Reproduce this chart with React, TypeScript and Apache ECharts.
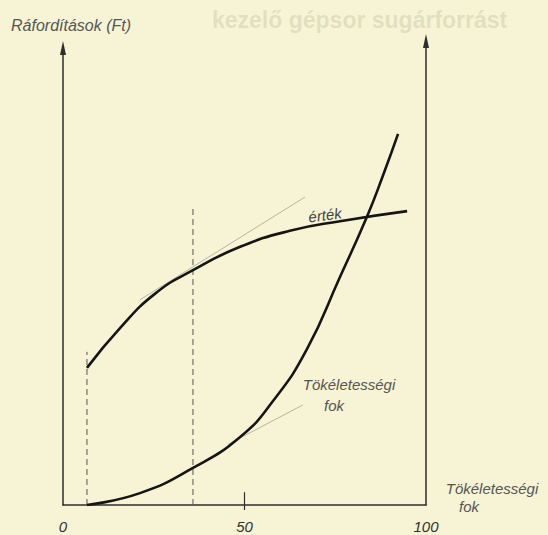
import React, { useEffect, useRef } from "react";
import * as echarts from "echarts";

// Axis ticks (x: degree of perfection, %)
const xTicks: number[] = [0, 50, 100];
const xTickLabels: string[] = ["0", "50", "100"];

// "érték" (value) curve
const valueCurve: [number, number][] = [
  [6.6, 30.0], [15.7, 38.7], [25.3, 46.2], [35.8, 51.4], [48.8, 56.5],
  [62.5, 60.0], [76.3, 62.1], [94.8, 64.3],
];
// "Tökéletességi fok" (cost of perfection) curve
const perfectionCurve: [number, number][] = [
  [6.6, 0], [21.2, 2.6], [35.8, 8.1], [48.8, 14.9], [57.9, 22.8],
  [67.2, 34.1], [76.3, 49.9], [83.7, 63.0], [88.2, 72.2], [92.3, 81.2],
];
// Dashed verticals
const dashedLeft: [number, number][] = [[6.6, 0], [6.6, 33.5]];
const dashedRight: [number, number][] = [[35.8, 0], [35.8, 65.6]];
// Thin tangent lines
const valueTangent: [number, number][] = [[21.2, 44.9], [66.7, 67.4]];
const perfectionTangent: [number, number][] = [[45.5, 13.3], [66.1, 21.9]];
// Mark on the x axis at 50
const midTick: [number, number][] = [[50, -1.1], [50, 2.8]];

const FONT = '"Liberation Sans", "DejaVu Sans", sans-serif';

export default function App() {
  const ref = useRef<HTMLDivElement>(null);
  useEffect(() => {
    if (!ref.current) return;
    const chart = echarts.init(ref.current, undefined, { renderer: "svg" });
    const axisColor = "#2e2e2e";
    chart.setOption({
      animation: false,
      backgroundColor: "#f6f4d4",
      grid: { left: 63, right: 122, top: 48, bottom: 30 },
      xAxis: {
        type: "value",
        min: xTicks[0],
        max: xTicks[xTicks.length - 1],
        interval: 50,
        axisLine: { show: true, lineStyle: { color: axisColor, width: 1.5 } },
        axisTick: { show: false },
        splitLine: { show: false },
        axisLabel: {
          show: true,
          margin: 14,
          color: "#333",
          fontSize: 15,
          fontStyle: "italic",
          fontFamily: FONT,
          formatter: (v: number) => xTickLabels[xTicks.indexOf(v)] ?? "",
        },
      },
      yAxis: [
        {
          type: "value",
          min: 0,
          max: 100,
          position: "left",
          axisLine: {
            show: true,
            symbol: ["none", "triangle"],
            symbolSize: [6, 14],
            lineStyle: { color: axisColor, width: 1.5 },
          },
          axisTick: { show: false },
          axisLabel: { show: false },
          splitLine: { show: false },
        },
        {
          type: "value",
          min: 0,
          max: 100,
          position: "right",
          axisLine: {
            show: true,
            symbol: ["none", "triangle"],
            symbolSize: [6, 14],
            symbolOffset: [0, 7],
            lineStyle: { color: axisColor, width: 1.5 },
          },
          axisTick: { show: false },
          axisLabel: { show: false },
          splitLine: { show: false },
        },
      ],
      series: [
        {
          type: "line",
          data: dashedLeft,
          symbol: "none",
          lineStyle: { color: "#555", width: 1, type: [6, 4] },
        },
        {
          type: "line",
          data: dashedRight,
          symbol: "none",
          lineStyle: { color: "#555", width: 1, type: [6, 4] },
        },
        {
          type: "line",
          data: valueTangent,
          symbol: "none",
          lineStyle: { color: "#b5b4a4", width: 1 },
        },
        {
          type: "line",
          data: perfectionTangent,
          symbol: "none",
          lineStyle: { color: "#b5b4a4", width: 1 },
        },
        {
          type: "line",
          data: midTick,
          symbol: "none",
          clip: false,
          lineStyle: { color: axisColor, width: 1.2 },
        },
        {
          type: "line",
          name: "érték",
          data: valueCurve,
          symbol: "none",
          smooth: 0.5,
          lineStyle: { color: "#151515", width: 2.6 },
        },
        {
          type: "line",
          name: "Tökéletességi fok",
          data: perfectionCurve,
          symbol: "none",
          smooth: 0.5,
          lineStyle: { color: "#151515", width: 2.6 },
        },
      ],
      graphic: [
        {
          type: "text",
          silent: true,
          style: {
            text: "kezelő gépsor sugárforrást",
            x: 212,
            y: 20,
            fill: "rgba(110,110,90,0.17)",
            fontSize: 23,
            fontWeight: "bold",
            fontFamily: FONT,
            verticalAlign: "middle",
          },
        },
        {
          type: "text",
          style: {
            text: "Ráfordítások (Ft)",
            x: 11,
            y: 25,
            fill: "#555",
            fontSize: 16,
            fontStyle: "italic",
            fontFamily: FONT,
            verticalAlign: "middle",
          },
        },
        {
          type: "text",
          rotation: 0.12,
          x: 325,
          y: 215,
          style: {
            text: "érték",
            x: 0,
            y: 0,
            fill: "#444",
            fontSize: 15,
            fontStyle: "italic",
            fontFamily: FONT,
            align: "center",
            verticalAlign: "middle",
          },
        },
        {
          type: "text",
          style: {
            text: "Tökéletességi",
            x: 349,
            y: 384,
            fill: "#555",
            fontSize: 15,
            fontStyle: "italic",
            fontFamily: FONT,
            align: "center",
            verticalAlign: "middle",
          },
        },
        {
          type: "text",
          style: {
            text: "fok",
            x: 334,
            y: 405,
            fill: "#555",
            fontSize: 15,
            fontStyle: "italic",
            fontFamily: FONT,
            align: "center",
            verticalAlign: "middle",
          },
        },
        {
          type: "text",
          style: {
            text: "Tökéletességi",
            x: 492,
            y: 488,
            fill: "#555",
            fontSize: 15,
            fontStyle: "italic",
            fontFamily: FONT,
            align: "center",
            verticalAlign: "middle",
          },
        },
        {
          type: "text",
          style: {
            text: "fok",
            x: 469,
            y: 506,
            fill: "#555",
            fontSize: 15,
            fontStyle: "italic",
            fontFamily: FONT,
            align: "center",
            verticalAlign: "middle",
          },
        },
      ],
    });
    return () => chart.dispose();
  }, []);
  return (
    <div
      ref={ref}
      style={{ position: "fixed", left: 0, top: 0, width: 548, height: 535, background: "#f6f4d4" }}
    />
  );
}
